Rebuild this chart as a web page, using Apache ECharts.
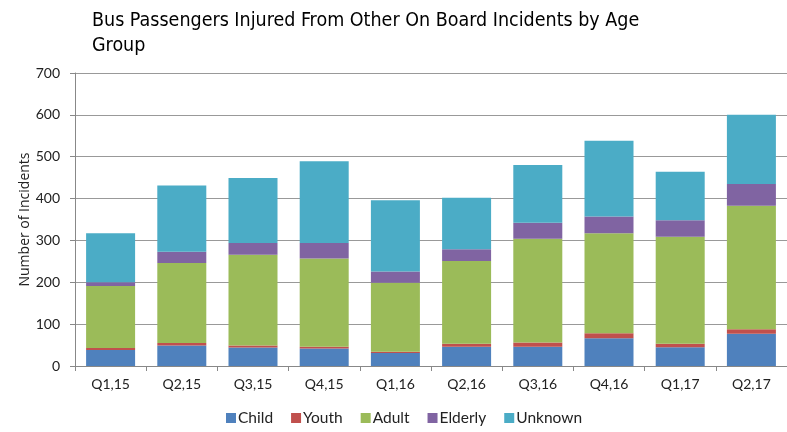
<!DOCTYPE html>
<html>
<head>
<meta charset="utf-8">
<script src="https://cdn.jsdelivr.net/npm/echarts@6/dist/echarts.min.js"></script>
<style>
  html, body { margin: 0; padding: 0; background: #fff; }
  #main { width: 787px; height: 432px; }
</style>
</head>
<body>
<div id="main"></div>
<script>
// quarters on the x axis
var quarters = ['Q1,15', 'Q2,15', 'Q3,15', 'Q4,15', 'Q1,16', 'Q2,16', 'Q3,16', 'Q4,16', 'Q1,17', 'Q2,17'];

// injured passengers per age group
var child    = [38, 49, 44, 42, 31, 46, 46, 66, 45, 77];
var youth    = [5, 6, 5, 4, 3, 7, 10, 12, 8, 11];
var adult    = [148, 191, 217, 211, 165, 198, 248, 239, 256, 295];
var elderly  = [9, 27, 28, 37, 27, 28, 38, 40, 39, 52];
var unknown  = [117, 158, 155, 195, 170, 123, 138, 181, 116, 165];

var groupNames = ['Child', 'Youth', 'Adult', 'Elderly', 'Unknown'];
var groupColors = ['#4F81BD', '#C0504D', '#9BBB59', '#8064A2', '#4BACC6'];

var chart = echarts.init(document.getElementById('main'));
var labelFont = 'Lato, "Open Sans", sans-serif';

var series = [child, youth, adult, elderly, unknown].map(function (vals, i) {
    return {
        name: groupNames[i],
        type: 'bar',
        stack: 'total',
        barWidth: 49,
        data: vals,
        itemStyle: { color: groupColors[i] }
    };
});

chart.setOption({
    animation: false,
    title: {
        text: 'Bus Passengers Injured From Other On Board Incidents by Age\nGroup',
        left: 87,
        top: 3,
        textStyle: {
            fontFamily: '"Liberation Sans Narrow", "DejaVu Sans Condensed", Lato, sans-serif',
            fontWeight: 'normal',
            fontSize: 19.5,
            lineHeight: 25,
            color: '#000'
        }
    },
    legend: {
        data: groupNames,
        left: 221,
        top: 405,
        icon: 'rect',
        itemWidth: 10,
        itemHeight: 10,
        itemGap: 18,
        textStyle: { fontFamily: labelFont, fontSize: 15.5, color: '#222', padding: [0, 0, 0, -3] }
    },
    grid: {
        left: 75,
        top: 73,
        width: 717,
        height: 293
    },
    xAxis: {
        type: 'category',
        data: quarters,
        axisLine: { lineStyle: { color: '#888', width: 1 } },
        axisTick: { show: true, length: 5, lineStyle: { color: '#888' } },
        axisLabel: { fontFamily: labelFont, fontSize: 14, color: '#222', margin: 11 }
    },
    yAxis: {
        type: 'value',
        min: 0,
        max: 700,
        interval: 100,
        name: 'Number of Incidents',
        nameLocation: 'middle',
        nameGap: 43,
        nameMoveOverlap: false,
        nameTextStyle: { fontFamily: '"Open Sans", sans-serif', fontSize: 14, color: '#222' },
        axisLine: { show: true, lineStyle: { color: '#888' } },
        axisTick: { show: true, length: 5, lineStyle: { color: '#888' } },
        axisLabel: { fontFamily: labelFont, fontSize: 14, color: '#222', margin: 15 },
        splitLine: { lineStyle: { color: '#999', width: 1 } }
    },
    series: series
});
</script>
</body>
</html>
